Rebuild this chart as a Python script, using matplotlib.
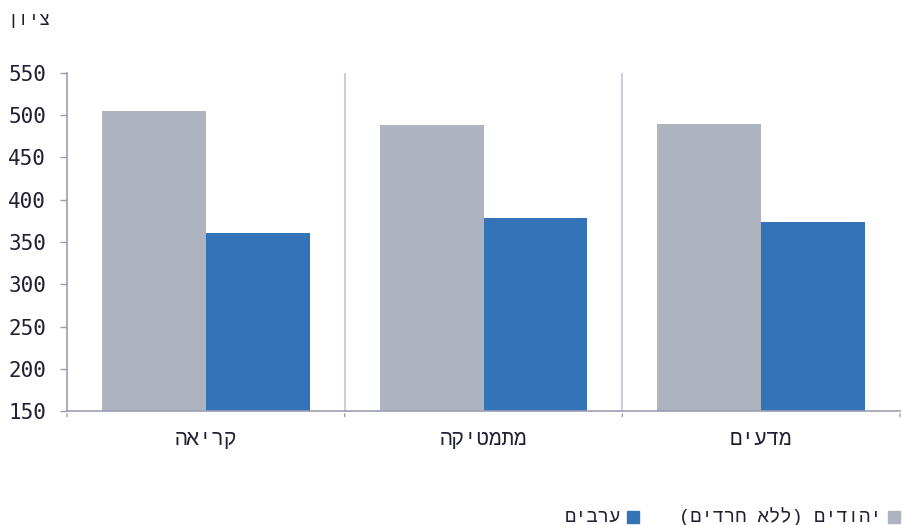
import matplotlib
matplotlib.use("Agg")
import matplotlib.pyplot as plt
from matplotlib.patches import Rectangle
import numpy as np

# data
categories = ["קריאה", "מתמטיקה", "מדעים"]
series_names = ["יהודים (ללא חרדים)", "ערבים"]
jews = [505, 489, 490]
arabs = [361, 378, 374]
yticks = [150, 200, 250, 300, 350, 400, 450, 500, 550]
ylabel = "ציון"

NUMFONT = ["DejaVu Sans Mono", "DejaVu Sans"]
HEBFONT = ["Liberation Mono", "DejaVu Sans"]
TEXT = "#1f2033"
AXIS = "#9a9eb0"
GRAY = "#aeb4bf"
BLUE = "#3573b9"


def rtl(s):
    # matplotlib has no bidi support: put the characters in visual order
    mirror = {"(": ")", ")": "("}
    return "".join(mirror.get(c, c) for c in reversed(s))


plt.rcParams["font.family"] = NUMFONT

fig = plt.figure(figsize=(9.03, 5.25), dpi=100)
ax = fig.add_axes([0.0742, 0.2171, 0.9225, 0.6439])

x = np.arange(len(categories))
w = 0.374
ax.bar(x - w / 2, jews, w, color=GRAY)
ax.bar(x + w / 2, arabs, w, color=BLUE)

ax.set_ylim(150, 550)
ax.set_xlim(-0.5, len(categories) - 0.5)
ax.set_yticks(yticks)
ax.set_yticklabels([str(t) for t in yticks], fontsize=15, color=TEXT)
ax.tick_params(axis="y", length=5, color=AXIS, width=1, pad=10)

# category labels, ticks at boundaries
ax.set_xticks(x)
ax.set_xticklabels([rtl(c) for c in categories], fontsize=15, color=TEXT,
                   family=HEBFONT)
ax.tick_params(axis="x", length=0, pad=14)
for b in np.arange(-0.5, len(categories), 1.0):
    ax.annotate("", xy=(b, 0), xycoords=("data", "axes fraction"),
                xytext=(0, -6), textcoords="offset points",
                arrowprops=dict(arrowstyle="-", color=AXIS, lw=1))
for b in np.arange(0.5, len(categories) - 1, 1.0):
    ax.axvline(b, color="#c3c5d3", lw=1.2, zorder=0)

for s in ["top", "right"]:
    ax.spines[s].set_visible(False)
ax.spines["left"].set_color(AXIS)
ax.spines["bottom"].set_color(AXIS)
ax.spines["left"].set_linewidth(1.2)
ax.spines["bottom"].set_linewidth(1.2)

fig.text(7 / 903, 1 - 21 / 525, rtl(ylabel), fontsize=13, color=TEXT,
         ha="left", va="center", family=HEBFONT)

# legend (right to left)
ly = 1 - 517 / 525
sq = 12
fig.patches.append(Rectangle((888 / 903, ly - 6 / 525), sq / 903, sq / 525,
                             transform=fig.transFigure, color=GRAY))
fig.text(882 / 903, ly, rtl(series_names[0]), fontsize=13.5, color=TEXT,
         ha="right", va="center", family=HEBFONT)
fig.patches.append(Rectangle((627 / 903, ly - 6 / 525), sq / 903, sq / 525,
                             transform=fig.transFigure, color=BLUE))
fig.text(621 / 903, ly, rtl(series_names[1]), fontsize=13.5, color=TEXT,
         ha="right", va="center", family=HEBFONT)

fig.savefig("out.png", dpi=100)
